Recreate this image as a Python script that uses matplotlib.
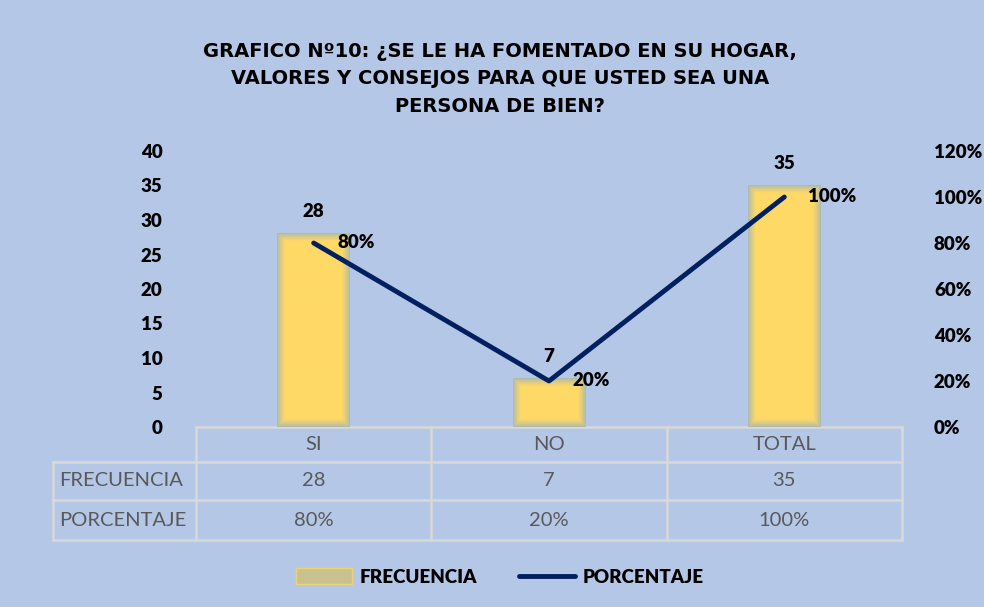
import numpy as np
import matplotlib.pyplot as plt
from matplotlib.patches import Patch
from matplotlib.lines import Line2D
from matplotlib import transforms

plt.rcParams['font.family'] = ['Lato', 'DejaVu Sans']

# datos
categorias = ['SI', 'NO', 'TOTAL']
frecuencia = [28, 7, 35]
porcentaje = [0.80, 0.20, 1.00]
filas = ['FRECUENCIA', 'PORCENTAJE']
titulo = 'GRAFICO Nº10: ¿SE LE HA FOMENTADO EN SU HOGAR,\nVALORES Y CONSEJOS PARA QUE USTED SEA UNA\nPERSONA DE BIEN?'

fondo = '#b4c7e7'
amarillo = np.array([255, 217, 102]) / 255
borde = np.array([168, 184, 178]) / 255
azul = '#002060'
gris_txt = '#595959'
gris_linea = '#d9d9d9'

fig = plt.figure(figsize=(9.84, 6.07), dpi=100, facecolor=fondo)
ax = fig.add_axes([196 / 984, 1 - 427 / 607, 706 / 984, 276 / 607])
ax.set_facecolor(fondo)
ax2 = ax.twinx()

x = np.arange(len(categorias))
barras = ax.bar(x, frecuencia, width=0.31, color='none', zorder=2)

# relleno degradado ("bordes suaves") de cada barra, borde de ~7 px
px_x = 706 / 3
px_y = 276 / 40
for b in barras:
    w = int(round(b.get_width() * px_x))
    h = int(round(b.get_height() * px_y))
    dx = np.minimum(np.arange(w) + 0.5, w - np.arange(w) - 0.5)
    dy = np.minimum(np.arange(h) + 0.5, h - np.arange(h) - 0.5)
    dist = np.minimum.outer(dy, dx)
    t = np.clip(dist / 8, 0, 1) ** 0.8
    img = borde + (amarillo - borde) * t[..., None]
    ax.imshow(img, extent=(b.get_x(), b.get_x() + b.get_width(), 0, b.get_height()),
              aspect='auto', zorder=2, interpolation='bilinear')

for xi, v in zip(x, frecuencia):
    ax.annotate(str(v), (xi, v), xytext=(0, 10), textcoords='offset points',
                ha='center', va='bottom', fontsize=13.5, fontweight='heavy')

ax2.plot(x, porcentaje, color=azul, lw=3.5, solid_capstyle='round', zorder=3)
for xi, p in zip(x, porcentaje):
    ax2.annotate(f'{p:.0%}', (xi, p), xytext=(17, 0), textcoords='offset points',
                 ha='left', va='center', fontsize=13.5, fontweight='heavy')

ax.set_xlim(-0.5, 2.5)
ax.set_ylim(0, 40)
ax.set_yticks(range(0, 41, 5))
ax2.set_ylim(0, 1.2)
ax2.set_yticks(np.arange(0, 1.21, 0.2))
ax2.set_yticklabels([f'{v:.0%}' for v in np.arange(0, 1.21, 0.2)])
ax.set_xticks([])
for a in (ax, ax2):
    for s in a.spines.values():
        s.set_visible(False)
    a.tick_params(length=0, labelsize=13.5)
    for lbl in a.get_yticklabels():
        lbl.set_fontweight('heavy')
ax.tick_params(axis='y', pad=24)
ax2.tick_params(axis='y', pad=23)

# tabla de datos bajo el eje
tr = transforms.blended_transform_factory(ax.transData, ax.transAxes)
y0, y1, y2, y3 = 0, -35 / 276, -73 / 276, -113 / 276
xl = -0.5 - 143 / px_x
kw = dict(color=gris_linea, lw=1.8, transform=tr, clip_on=False, zorder=1)
ax.plot([-0.5, 2.5], [y0, y0], **kw)
for yy in (y1, y2, y3):
    ax.plot([xl, 2.5], [yy, yy], **kw)
for xx in (-0.5, 0.5, 1.5, 2.5):
    ax.plot([xx, xx], [y0, y3], **kw)
ax.plot([xl, xl], [y1, y3], **kw)

txt = dict(transform=tr, color=gris_txt, fontsize=14.5, va='center', clip_on=False)
for xi, c, f, p in zip(x, categorias, frecuencia, porcentaje):
    ax.text(xi, (y0 + y1) / 2, c, ha='center', **txt)
    ax.text(xi, (y1 + y2) / 2, str(f), ha='center', **txt)
    ax.text(xi, (y2 + y3) / 2, f'{p:.0%}', ha='center', **txt)
ax.text(xl + 0.025, (y1 + y2) / 2, filas[0], ha='left', **txt)
ax.text(xl + 0.025, (y2 + y3) / 2, filas[1], ha='left', **txt)

fig.text(0.508, 1 - 79 / 607, titulo, ha='center', va='center', fontsize=14,
         fontweight='bold', linespacing=1.55, color='black',
         family=['DejaVu Sans'])

handles = [Patch(facecolor='#c8c290', edgecolor='#f2d36b', lw=1),
           Line2D([], [], color=azul, lw=3.5, solid_capstyle='round')]
fig.legend(handles, ['FRECUENCIA', 'PORCENTAJE'], loc='center',
           bbox_to_anchor=(0.508, 1 - 577 / 607), ncol=2, frameon=False,
           handlelength=3.0, handleheight=0.9, handletextpad=0.4, columnspacing=2.2,
           prop={'weight': 'heavy', 'size': 13.5})

fig.savefig('out.png', dpi=100, facecolor=fondo)
